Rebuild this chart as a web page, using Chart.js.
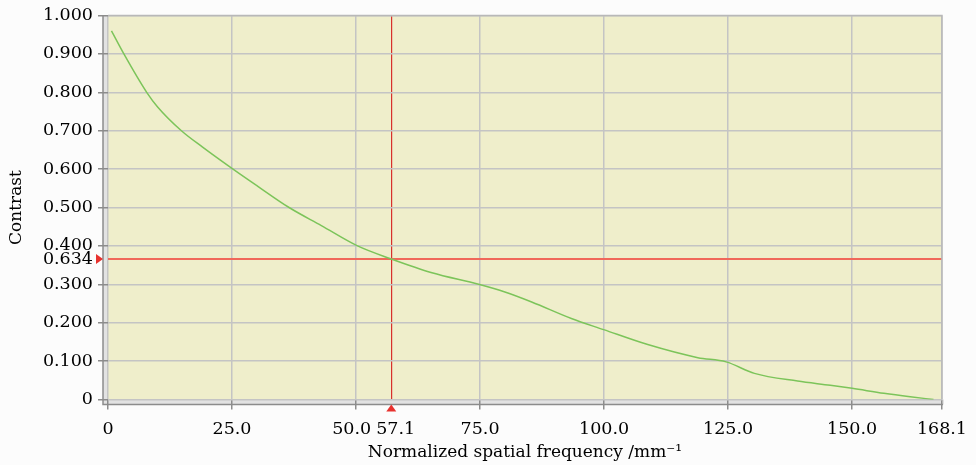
<!DOCTYPE html>
<html>
<head>
<meta charset="utf-8">
<script src="https://cdn.jsdelivr.net/npm/chart.js@4"></script>
<style>
  body { margin: 0; background: #fcfcfc; }
  #wrap { width: 976px; height: 465px; }
</style>
</head>
<body>
<div id="wrap"><canvas id="mtf"></canvas></div>
<script>
// values
const freq = [0.7, 3.2, 7.8, 10, 14.8, 19, 25.2, 30, 36.5, 43, 50.3, 57.1, 65.3, 74.7, 80, 85.4, 93.4, 99.9, 108.8, 118.9, 124.6, 130.3, 139, 145.6, 150, 156.4, 161.7, 166.4];
const contrast = [0.960, 0.900, 0.800, 0.762, 0.700, 0.658, 0.600, 0.557, 0.500, 0.453, 0.400, 0.366, 0.330, 0.300, 0.280, 0.254, 0.211, 0.182, 0.143, 0.109, 0.098, 0.068, 0.048, 0.037, 0.029, 0.016, 0.007, 0.0];

const xTicks = [0, 25, 50, 57.1, 75, 100, 125, 150, 168.1];
const yTicks = [0, 0.1, 0.2, 0.3, 0.366, 0.4, 0.5, 0.6, 0.7, 0.8, 0.9, 1.0];

const markerX = 57.1;
const markerY = 0.366;
const markerYLabel = "0.634";

const plotBg = "#efeecb";
const gridColor = "#c4c4c4";
const axisColor = "#8c8c8c";
const font = { family: "'DejaVu Serif', serif", size: 17.5 };

const frame = {
  id: "frame",
  beforeDraw(chart) {
    const { ctx, chartArea: a } = chart;
    ctx.save();
    // light band between plot and axes
    ctx.fillStyle = "#e2e2e2";
    ctx.fillRect(a.left - 5, a.top, 5, a.bottom - a.top + 5);
    ctx.fillRect(a.left - 5, a.bottom, a.right - a.left + 7, 5);
    ctx.fillStyle = plotBg;
    ctx.fillRect(a.left, a.top, a.right - a.left, a.bottom - a.top);
    ctx.restore();
  },
  afterDraw(chart) {
    const { ctx, chartArea: a, scales } = chart;
    ctx.save();
    ctx.strokeStyle = axisColor;
    ctx.lineWidth = 1.5;
    ctx.beginPath();
    ctx.moveTo(a.left - 5, a.top);
    ctx.lineTo(a.left - 5, a.bottom + 5);
    ctx.lineTo(a.right + 1, a.bottom + 5);
    ctx.stroke();
    ctx.strokeStyle = "#b8b8b8";
    ctx.beginPath();
    ctx.moveTo(a.left, a.top);
    ctx.lineTo(a.right, a.top);
    ctx.lineTo(a.right, a.bottom);
    ctx.stroke();
    // red markers
    ctx.fillStyle = "#e8322e";
    const py = scales.y.getPixelForValue(markerY);
    ctx.beginPath();
    ctx.moveTo(a.left - 12, py - 5);
    ctx.lineTo(a.left - 5, py);
    ctx.lineTo(a.left - 12, py + 5);
    ctx.closePath();
    ctx.fill();
    const px = scales.x.getPixelForValue(markerX);
    ctx.beginPath();
    ctx.moveTo(px - 5, a.bottom + 12);
    ctx.lineTo(px, a.bottom + 5);
    ctx.lineTo(px + 5, a.bottom + 12);
    ctx.closePath();
    ctx.fill();
    ctx.restore();
  }
};

function xLabel(v) {
  if (v === 0) return "0";
  // nudge the two crowded labels apart like the original
  if (v === 50) return "50.0\u2002";
  if (v === markerX) return "\u2002" + v.toFixed(1);
  return v.toFixed(1);
}

new Chart(document.getElementById("mtf"), {
  type: "line",
  data: {
    datasets: [{
      data: freq.map((f, i) => ({ x: f, y: contrast[i] })),
      borderColor: "#7cc45a",
      borderWidth: 1.5,
      pointRadius: 0,
      cubicInterpolationMode: "monotone"
    }]
  },
  options: {
    responsive: true,
    maintainAspectRatio: false,
    animation: false,
    layout: { padding: { top: 14, right: 30, bottom: 0, left: 0 } },
    plugins: { legend: { display: false }, tooltip: { enabled: false } },
    scales: {
      x: {
        type: "linear",
        min: 0,
        max: 168.1,
        afterBuildTicks: s => { s.ticks = xTicks.map(v => ({ value: v })); },
        afterFit: s => { s.height = 65.5; },
        border: { display: false },
        grid: {
          color: c => c.tick && c.tick.value === markerX ? "#d8302c" : gridColor,
          lineWidth: c => c.tick && c.tick.value === markerX ? 1.2 : 1.5,
          tickColor: c => c.tick && c.tick.value === markerX ? "rgba(0,0,0,0)" : axisColor,
          tickLength: 10
        },
        ticks: {
          autoSkip: false,
          maxRotation: 0,
          color: "#000",
          font: font,
          padding: 9,
          callback: xLabel
        },
        title: {
          display: true,
          text: "Normalized spatial frequency /mm⁻¹",
          color: "#000",
          font: { family: "'DejaVu Serif', serif", size: 17 },
          padding: { top: 0, bottom: 2 }
        }
      },
      y: {
        type: "linear",
        min: 0,
        max: 1,
        afterBuildTicks: s => { s.ticks = yTicks.map(v => ({ value: v })); },
        afterFit: s => { s.width = 108; },
        border: { display: false },
        grid: {
          color: c => c.tick && c.tick.value === markerY ? "#f0685a" : gridColor,
          lineWidth: c => c.tick && c.tick.value === markerY ? 2 : 1.5,
          tickColor: c => c.tick && c.tick.value === markerY ? "rgba(0,0,0,0)" : axisColor,
          tickLength: 10
        },
        ticks: {
          autoSkip: false,
          color: "#000",
          font: font,
          padding: 5,
          callback: v => v === markerY ? markerYLabel : (v === 0 ? "0" : v.toFixed(3))
        },
        title: {
          display: true,
          text: "Contrast",
          color: "#000",
          font: { family: "'DejaVu Serif', serif", size: 17 },
          padding: { top: 6, bottom: 0 }
        }
      }
    }
  },
  plugins: [frame]
});
</script>
</body>
</html>
